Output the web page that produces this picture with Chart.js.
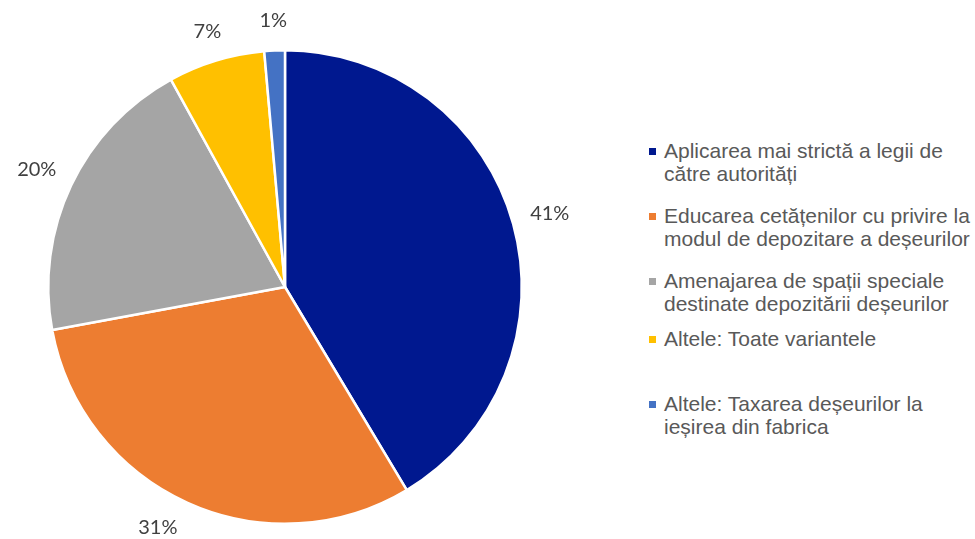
<!DOCTYPE html>
<html lang="ro">
<head>
  <meta charset="UTF-8">
  <title>Masuri deseuri</title>
  <script src="https://cdn.jsdelivr.net/npm/chart.js"></script>
  <style>
    html, body { margin: 0; padding: 0; background: #fff; }
    body { width: 975px; height: 539px; position: relative; overflow: hidden; }
    #wrap { position: absolute; left: 0; top: 0; width: 640px; height: 539px; }
    #legend { position: absolute; left: 649px; top: 139px; font-family: "Liberation Sans", Arial, sans-serif;
              font-size: 21px; line-height: 23px; color: #595959; }
    .item { display: flex; align-items: flex-start; margin-bottom: 19px; white-space: pre-line; }
    .item:nth-child(4) { margin-bottom: 42px; margin-top: -7px; }
    .box { width: 7px; height: 7px; margin: 9px 8px 0 0; flex: none; }
  </style>
</head>
<body>

<div id="wrap"><canvas id="chart"></canvas></div>
<div id="legend"></div>

<script>
const categories = [
  "Aplicarea mai strictă a legii de\ncătre autorități",
  "Educarea cetățenilor cu privire la\nmodul de depozitare a deșeurilor",
  "Amenajarea de spații speciale\ndestinate depozitării deșeurilor",
  "Altele: Toate variantele",
  "Altele: Taxarea deșeurilor la\nieșirea din fabrica"
];
const shares = [41.4, 30.7, 19.9, 6.6, 1.4];
const colors = ["#00188F", "#ED7D31", "#A5A5A5", "#FFC000", "#4472C4"];

// percent labels just outside each slice (kept inside the canvas)
const outsideLabels = {
  id: 'outsideLabels',
  afterDatasetsDraw(chart) {
    const ctx = chart.ctx;
    const meta = chart.getDatasetMeta(0);
    ctx.save();
    ctx.font = '20px Lato, "Open Sans", sans-serif';
    ctx.fillStyle = '#404040';
    ctx.textAlign = 'center';
    ctx.textBaseline = 'middle';
    meta.data.forEach((arc, i) => {
      const p = arc.getProps(['x', 'y', 'startAngle', 'endAngle', 'outerRadius'], true);
      const mid = (p.startAngle + p.endAngle) / 2;
      const r = p.outerRadius + (shares[i] < 10 ? 30 : 38);
      let x = p.x + Math.cos(mid) * r;
      let y = p.y + Math.sin(mid) * r;
      if (y > chart.height - 11) {
        x -= (y - (chart.height - 11)) * 1.5;
        y = chart.height - 11;
      }
      ctx.fillText(Math.round(shares[i]) + '%', x, y);
    });
    ctx.restore();
  }
};

new Chart(document.getElementById('chart'), {
  type: 'pie',
  data: {
    labels: categories,
    datasets: [{
      data: shares,
      backgroundColor: colors,
      borderColor: '#ffffff',
      borderWidth: 2.5
    }]
  },
  options: {
    responsive: true,
    maintainAspectRatio: false,
    animation: false,
    layout: { padding: { left: 47, right: 117, top: 49, bottom: 14 } },
    plugins: { legend: { display: false }, tooltip: { enabled: false } }
  },
  plugins: [outsideLabels]
});

const legend = document.getElementById('legend');
categories.forEach((c, i) => {
  const item = document.createElement('div');
  item.className = 'item';
  const box = document.createElement('span');
  box.className = 'box';
  box.style.background = colors[i];
  const txt = document.createElement('span');
  txt.textContent = c;
  item.appendChild(box);
  item.appendChild(txt);
  legend.appendChild(item);
});
</script>

</body>
</html>
